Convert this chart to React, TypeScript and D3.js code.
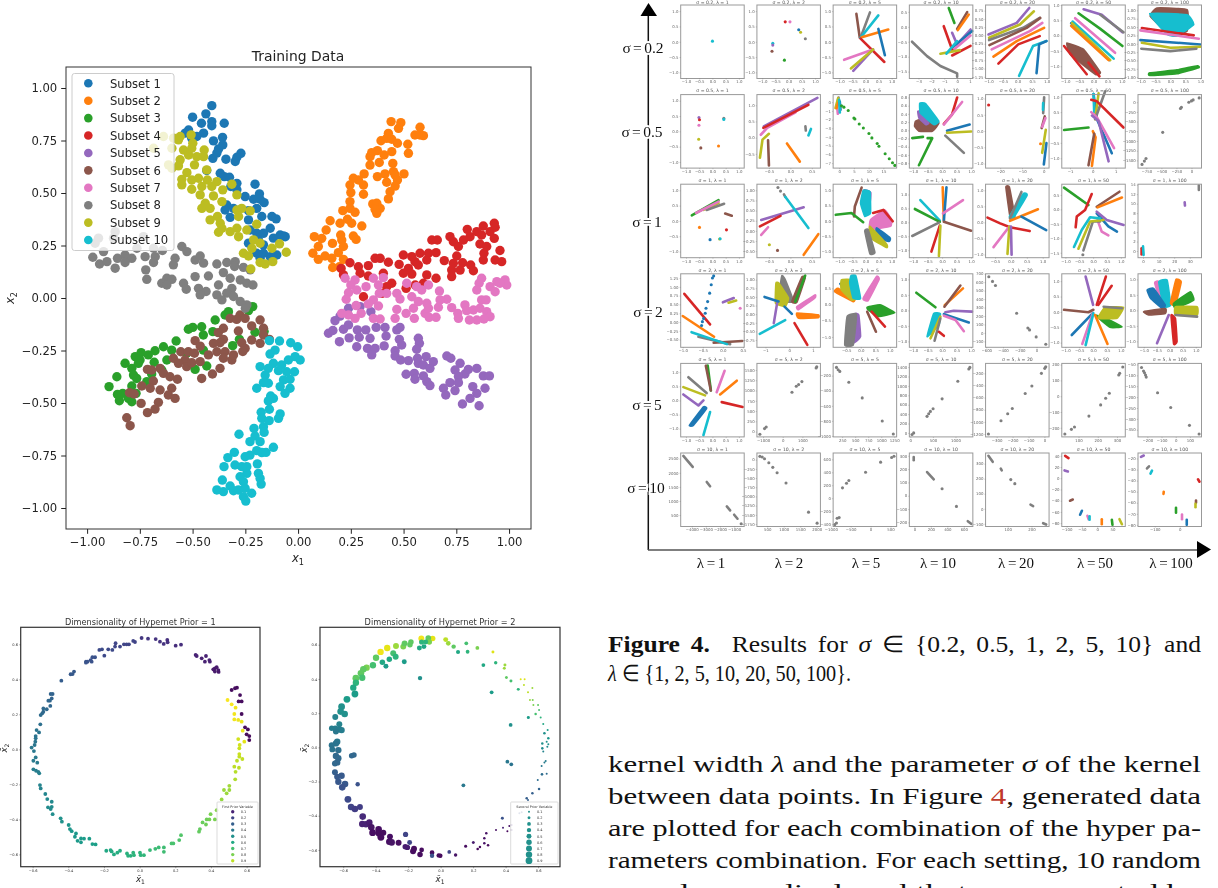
import React, { useEffect, useRef } from 'react';
import * as d3 from 'd3';

const WIDTH = 1218;
const HEIGHT = 888;
const SANS = '"DejaVu Sans", sans-serif';
const SERIF = '"Liberation Serif", serif';
const tab10 = ['#1f77b4', '#ff7f0e', '#2ca02c', '#d62728', '#9467bd', '#8c564b', '#e377c2', '#7f7f7f', '#bcbd22', '#17becf'];
const [blue, orange, green, red, purple, brown, pink, gray, olive, cyan] = [0, 1, 2, 3, 4, 5, 6, 7, 8, 9];

// ---- training data ----
const subset1 = [[-.409,.916],[-.437,.877],[-.5,.861],[-.458,.832],[-.409,.84],[-.35,.832],[-.409,.82],[-.519,.8],[-.535,.785],[-.448,.785],[-.48,.769],[-.504,.761],[-.358,.765],[-.401,.748],[-.357,.729],[-.377,.71],[-.271,.689],[-.29,.67],[-.342,.661],[-.298,.65],[-.404,.665],[-.385,.69],[-.369,.594],[-.35,.578],[-.325,.575],[-.433,.607],[-.29,.546],[-.319,.531],[-.204,.542],[-.251,.483],[-.183,.496],[-.211,.47],[-.18,.47],[-.161,.454],[-.29,.515],[-.338,.443],[-.306,.427],[-.346,.419],[-.196,.427],[-.235,.416],[-.322,.384],[-.172,.388],[-.124,.388],[-.104,.377],[-.235,.372],[-.132,.332],[-.227,.324],[-.196,.308],[-.164,.308],[-.069,.296],[-.085,.3],[-.117,.285],[-.061,.292],[-.235,.261],[-.188,.277],[-.164,.253],[-.101,.205],[-.132,.197],[-.18,.189],[-.196,.213],[-.164,.213]];
const subset2 = [[.441,.84],[.487,.835],[.476,.808],[.578,.813],[.554,.776],[.578,.776],[.594,.773],[.428,.784],[.42,.76],[.393,.749],[.444,.756],[.471,.737],[.52,.732],[.444,.697],[.523,.689],[.376,.702],[.349,.692],[.341,.673],[.408,.681],[.341,.633],[.385,.645],[.449,.641],[.313,.591],[.452,.602],[.412,.591],[.376,.578],[.502,.591],[.46,.586],[.42,.551],[.471,.562],[.46,.533],[.286,.562],[.262,.57],[.246,.538],[.31,.538],[.25,.502],[.31,.494],[.436,.506],[.428,.472],[.354,.448],[.373,.451],[.389,.427],[.365,.422],[.373,.403],[.246,.459],[.246,.427],[.27,.408],[.212,.416],[.152,.368],[.234,.375],[.199,.356],[.254,.356],[.302,.343],[.133,.324],[.202,.3],[.262,.295],[.275,.279],[.077,.292],[.112,.284],[.096,.245],[.163,.26],[.207,.276],[.215,.245],[.07,.213],[.096,.184],[.128,.2],[.191,.216],[.16,.189],[.164,.145],[.215,.184],[.196,.149]];
const subset3 = [[-.215,-.041],[-.235,-.06],[-.33,-.065],[-.346,-.081],[-.393,-.105],[-.457,-.137],[-.499,-.14],[-.52,-.149],[-.449,-.176],[-.404,-.16],[-.578,-.205],[-.638,-.232],[-.678,-.251],[-.71,-.271],[-.744,-.26],[-.772,-.279],[-.749,-.295],[-.599,-.248],[-.622,-.295],[-.528,-.263],[-.449,-.248],[-.682,-.306],[-.82,-.311],[-.788,-.335],[-.757,-.311],[-.78,-.367],[-.765,-.383],[-.859,-.375],[-.694,-.362],[-.646,-.343],[-.488,-.34],[-.433,-.324],[-.717,-.398],[-.788,-.419],[-.896,-.422],[-.856,-.459],[-.831,-.454],[-.847,-.489],[-.804,-.478],[-.788,-.494],[-.768,-.454],[-.31,-.227],[-.278,-.197],[-.204,-.163],[-.161,-.16]];
const subset4 = [[.93,.356],[.878,.343],[.934,.337],[.802,.327],[.847,.316],[.91,.316],[.87,.3],[.93,.284],[.634,.276],[.66,.276],[.72,.292],[.736,.268],[.815,.292],[.784,.276],[.76,.245],[.862,.257],[.894,.245],[.881,.213],[.957,.226],[.878,.181],[.934,.181],[.965,.173],[.499,.205],[.539,.197],[.578,.213],[.618,.213],[.654,.216],[.554,.173],[.61,.181],[.479,.16],[.57,.157],[.693,.178],[.752,.2],[.736,.165],[.78,.168],[.818,.157],[.728,.133],[.768,.133],[.831,.13],[.728,.102],[.523,.141],[.499,.118],[.539,.114],[.61,.11],[.654,.094],[.365,.189],[.389,.189],[.428,.17],[.246,.168],[.286,.149],[.333,.154],[.204,.141],[.294,.118],[.333,.105],[.404,.118],[.215,.11],[.444,.07],[.42,.054],[.594,.07],[.555,.062],[.512,.046],[.31,.006],[.397,.022]];
const subset5 = [[.239,-.049],[.199,-.086],[.175,-.108],[.294,-.041],[.345,-.065],[.144,-.168],[.165,-.155],[.215,-.149],[.239,-.128],[.281,-.152],[.321,-.152],[.37,-.14],[.412,-.14],[.468,-.152],[.483,-.14],[.196,-.208],[.242,-.19],[.29,-.187],[.341,-.192],[.417,-.181],[.278,-.232],[.329,-.24],[.365,-.24],[.349,-.271],[.408,-.228],[.48,-.197],[.491,-.224],[.46,-.251],[.46,-.276],[.486,-.295],[.523,-.298],[.57,-.192],[.575,-.216],[.562,-.244],[.566,-.287],[.607,-.279],[.57,-.311],[.594,-.319],[.641,-.303],[.625,-.335],[.512,-.363],[.551,-.359],[.554,-.387],[.594,-.371],[.61,-.398],[.625,-.417],[.705,-.276],[.724,-.287],[.768,-.311],[.744,-.343],[.791,-.362],[.807,-.34],[.847,-.335],[.878,-.371],[.907,-.371],[.76,-.374],[.72,-.403],[.76,-.403],[.689,-.43],[.7,-.462],[.744,-.441],[.828,-.422],[.886,-.43],[.847,-.454],[.815,-.478],[.779,-.505],[.858,-.513]];
const subset6 = [[-.18,-.105],[-.22,-.133],[-.164,-.144],[-.275,-.081],[-.322,-.097],[-.291,-.102],[-.251,-.097],[-.354,-.144],[-.378,-.165],[-.283,-.157],[-.354,-.197],[-.37,-.213],[-.164,-.176],[-.136,-.197],[-.22,-.2],[-.18,-.216],[-.267,-.213],[-.251,-.24],[-.262,-.255],[-.401,-.216],[-.488,-.203],[-.464,-.229],[-.556,-.256],[-.52,-.256],[-.491,-.263],[-.425,-.271],[-.385,-.256],[-.346,-.256],[-.354,-.287],[-.314,-.295],[-.306,-.271],[-.591,-.287],[-.536,-.295],[-.567,-.311],[-.528,-.327],[-.504,-.308],[-.464,-.303],[-.37,-.335],[-.406,-.362],[-.457,-.383],[-.654,-.335],[-.714,-.34],[-.694,-.343],[-.638,-.359],[-.607,-.375],[-.572,-.387],[-.686,-.395],[-.741,-.419],[-.701,-.43],[-.599,-.43],[-.654,-.438],[-.615,-.462],[-.583,-.478],[-.799,-.451],[-.777,-.457],[-.744,-.502],[-.662,-.497],[-.678,-.529],[-.714,-.546],[-.812,-.57],[-.796,-.608]];
const subset7 = [[.223,.094],[.27,.086],[.25,.062],[.278,.038],[.239,.025],[.228,-.006],[.322,.054],[.357,.094],[.404,.097],[.381,.062],[.385,.022],[.42,.022],[.357,-.009],[.333,-.028],[.381,-.038],[.275,-.036],[.299,-.073],[.27,-.097],[.239,-.081],[.207,-.073],[.357,-.097],[.389,-.1],[.468,.022],[.483,-.005],[.515,.07],[.562,.054],[.618,.062],[.586,.038],[.67,.033],[.539,.006],[.57,-.017],[.61,-.025],[.547,-.049],[.468,-.054],[.512,-.073],[.46,-.097],[.551,-.097],[.602,-.073],[.621,-.092],[.654,-.092],[.618,-.049],[.705,-.006],[.673,-.009],[.665,-.044],[.728,-.046],[.757,-.073],[.76,-.097],[.791,-.033],[.799,-.06],[.831,-.057],[.87,-.009],[.891,-.009],[.862,-.049],[.894,-.065],[.91,-.089],[.881,-.1],[.847,-.105],[.812,-.105],[.87,.094],[.858,.07],[.847,.038],[.91,.054],[.934,.03],[.942,.078],[.981,.086],[.989,.062],[.957,.07]];
const subset8 = [[-.946,.285],[-.962,.261],[-.867,.316],[-.875,.285],[-.922,.221],[-.973,.194],[-.941,.162],[-.906,.173],[-.867,.142],[-.856,.189],[-.82,.205],[-.788,.189],[-.82,.169],[-.733,.292],[-.764,.237],[-.685,.237],[-.643,.226],[-.725,.197],[-.677,.197],[-.685,.169],[-.722,.134],[-.717,.089],[-.551,.245],[-.527,.221],[-.583,.189],[-.591,.158],[-.488,.181],[-.464,.2],[-.448,.166],[-.385,.162],[-.338,.169],[-.298,.173],[-.354,.121],[-.301,.15],[-.259,.146],[-.227,.134],[-.488,.102],[-.425,.105],[-.622,.094],[-.646,.07],[-.598,.089],[-.622,.062],[-.543,.07],[-.53,.042],[-.472,.046],[-.436,.031],[-.464,.015],[-.377,.062],[-.322,.094],[-.274,.086],[-.243,.07],[-.214,.062],[-.314,.046],[-.338,.023],[-.385,.015],[-.361,-.009],[-.306,.007],[-.274,-.017],[-.243,-.033],[-.25,-.049]];
const subset9 = [[-.685,.713],[-.638,.769],[-.59,.761],[-.559,.769],[-.598,.713],[-.567,.753],[-.507,.777],[-.499,.737],[-.504,.713],[-.543,.705],[-.445,.705],[-.614,.634],[-.598,.618],[-.559,.658],[-.567,.629],[-.519,.681],[-.48,.673],[-.448,.673],[-.491,.634],[-.433,.61],[-.527,.597],[-.551,.565],[-.551,.539],[-.504,.562],[-.472,.57],[-.504,.518],[-.456,.531],[-.43,.562],[-.385,.554],[-.409,.531],[-.357,.515],[-.314,.542],[-.464,.491],[-.401,.486],[-.361,.459],[-.29,.491],[-.44,.451],[-.456,.427],[-.417,.427],[-.29,.419],[-.267,.427],[-.227,.415],[-.282,.388],[-.382,.388],[-.417,.372],[-.369,.356],[-.361,.332],[-.377,.313],[-.322,.316],[-.29,.332],[-.282,.292],[-.243,.324],[-.196,.351],[-.211,.277],[-.18,.261],[-.219,.237],[-.259,.213],[-.235,.2],[-.124,.237],[-.088,.258],[-.056,.218],[-.18,.169],[-.156,.162],[-.12,.173],[-.224,.138]];
const subset10 = [[-.136,-.203],[-.088,-.205],[-.035,-.213],[-.002,-.232],[-.109,-.248],[-.133,-.267],[-.014,-.279],[.01,-.295],[-.046,-.295],[-.117,-.311],[-.078,-.319],[-.18,-.327],[-.141,-.335],[-.093,-.346],[-.054,-.351],[-.017,-.351],[-.156,-.367],[-.141,-.406],[-.164,-.403],[-.069,-.39],[-.038,-.387],[-.085,-.422],[-.038,-.43],[-.196,-.43],[-.062,-.454],[-.13,-.467],[-.117,-.478],[-.141,-.49],[-.136,-.53],[-.175,-.544],[-.085,-.552],[-.093,-.573],[-.172,-.573],[-.137,-.584],[-.164,-.613],[-.209,-.621],[-.161,-.64],[-.28,-.649],[-.204,-.657],[-.18,-.684],[-.228,-.684],[-.117,-.711],[-.196,-.727],[-.172,-.736],[-.152,-.735],[-.302,-.735],[-.333,-.76],[-.228,-.748],[-.251,-.756],[-.351,-.803],[-.299,-.795],[-.267,-.803],[-.243,-.803],[-.193,-.79],[-.188,-.835],[-.243,-.835],[-.275,-.851],[-.259,-.875],[-.18,-.859],[-.175,-.886],[-.359,-.867],[-.322,-.895],[-.385,-.914],[-.354,-.922],[-.306,-.918],[-.283,-.914],[-.251,-.906],[-.22,-.93],[-.259,-.946],[-.248,-.967]];
const subsets = [subset1, subset2, subset3, subset4, subset5, subset6, subset7, subset8, subset9, subset10];
const subsetNames = subsets.map((_, i) => `Subset ${i + 1}`);
const mainTicks = [-1, -0.75, -0.5, -0.25, 0, 0.25, 0.5, 0.75, 1];

// ---- hypernet prior, dimension 1: [x1, x2, first prior] ----
const priorOne = [
  [.615,.053,.02],[.615,.076,.02],[.6,.086,.02],[.607,.114,.02],[.591,.126,.02],[.572,.202,.02],[.572,.274,.03],[.555,.274,.03],[.563,.31,.03],[.546,.352,.03],[.535,.349,.03],[.516,.339,.03],
  [.443,.442,.07],[.432,.469,.07],[.441,.453,.07],[.422,.463,.07],[.413,.457,.07],[.422,.444,.07],
  [.391,.51,.09],[.394,.501,.09],[.366,.501,.09],[.372,.533,.09],[.348,.52,.09],[.32,.533,.1],[.314,.539,.1],
  [.232,.598,.13],[.202,.592,.13],[.155,.625,.14],[.157,.611,.14],[.135,.602,.15],[.114,.615,.15],[.09,.63,.15],[.047,.632,.16],[.011,.636,.16],
  [-.026,.613,.2],[-.036,.619,.2],[-.06,.6,.2],[-.073,.6,.2],[-.088,.6,.2],[-.11,.587,.21],[-.135,.606,.21],[-.138,.587,.21],[-.153,.568,.22],[-.176,.571,.22],[-.198,.535,.22],[-.211,.571,.23],[-.226,.568,.23],
  [-.25,.526,.25],[-.265,.526,.25],[-.269,.501,.25],[-.275,.51,.25],[-.292,.501,.26],[-.301,.501,.26],[-.301,.495,.26],[-.368,.444,.28],[-.376,.43,.28],[-.387,.429,.28],[-.439,.392,.29],
  [-.488,.316,.32],[-.499,.316,.32],[-.493,.291,.32],[-.503,.278,.33],[-.512,.278,.33],[-.501,.248,.33],[-.521,.229,.34],[-.54,.234,.34],[-.54,.215,.34],[-.546,.206,.34],[-.555,.196,.35],[-.557,.143,.36],
  [-.578,.11,.38],[-.564,.097,.38],[-.583,.076,.38],[-.583,.063,.38],[-.585,.044,.39],[-.589,.025,.39],[-.606,.01,.4],[-.593,-.01,.4],[-.583,-.046,.41],[-.596,-.065,.41],[-.574,-.076,.41],[-.596,-.114,.42],[-.581,-.122,.42],[-.568,-.128,.42],[-.563,-.137,.43],
  [-.559,-.204,.45],[-.555,-.223,.45],[-.529,-.255,.46],[-.518,-.284,.47],[-.493,-.299,.47],[-.493,-.328,.48],[-.514,-.331,.48],[-.499,-.341,.48],[-.488,-.37,.49],
  [-.443,-.394,.51],[-.436,-.413,.51],[-.398,-.432,.52],[-.391,-.455,.52],[-.381,-.467,.53],[-.357,-.48,.53],[-.363,-.499,.53],[-.348,-.522,.54],[-.329,-.531,.54],[-.329,-.509,.54],[-.312,-.51,.55],[-.282,-.51,.55],[-.265,-.541,.56],[-.247,-.543,.56],
  [-.187,-.579,.6],[-.163,-.575,.6],[-.157,-.583,.61],[-.144,-.6,.61],[-.125,-.59,.62],[-.11,-.579,.62],
  [-.071,-.594,.64],[-.065,-.608,.64],[-.05,-.608,.64],[-.036,-.59,.65],[-.032,-.604,.65],[.002,-.59,.65],[.006,-.604,.65],[.024,-.604,.66],[.058,-.575,.67],[.088,-.568,.68],[.107,-.56,.68],[.136,-.56,.69],[.136,-.585,.69],
  [.179,-.537,.71],[.189,-.537,.71],[.222,-.518,.72],[.232,-.49,.73],
  [.333,-.47,.76],[.338,-.455,.76],[.353,-.417,.77],[.372,-.429,.78],[.376,-.4,.78],[.391,-.4,.79],[.422,-.4,.8],[.398,-.37,.8],
  [.432,-.347,.82],[.46,-.286,.84],[.473,-.232,.85],[.488,-.251,.85],[.503,-.232,.85],[.503,-.208,.86],
  [.536,-.171,.88],[.538,-.128,.89],[.531,-.099,.9],[.557,-.105,.9],[.546,-.065,.9],[.559,-.042,.91],[.576,-.055,.91],[.559,-.027,.92],[.559,.006,.92],[.561,.025,.93],[.553,.059,.93],
  [.587,.044,.96],[.578,.107,.97],[.572,.158,.97],[.553,.168,.97],[.531,.171,.98],[.531,.202,.98],[.538,.238,.98],[.516,.257,.99],[.493,.282,.99],
];

// ---- hypernet prior, dimension 2: [x1, x2, first prior, second prior] ----
const priorTwo = [
  [-.119,.637,.98,.7],[-.049,.637,.96,.6],[-.076,.639,.75,.65],[-.07,.616,.8,.6],[-.117,.616,.65,.55],[-.092,.616,.65,.5],[-.131,.581,.6,.5],[-.103,.589,.6,.5],[.031,.63,.9,.5],[.047,.608,.85,.45],[.08,.589,.75,.4],[.107,.558,.6,.35],[.158,.608,.7,.3],[.166,.559,.65,.3],[.226,.581,.8,.3],[.322,.558,.95,.2],[.263,.481,.6,.3],[.339,.495,.65,.25],[.396,.481,.85,.2],[.392,.462,.85,.2],[.405,.409,.75,.2],[.433,.388,.7,.2],[.478,.339,.65,.2],[.314,.322,.55,.3],[.493,.398,.95,.1],[.517,.398,.95,.1],[.513,.365,.9,.1],[.538,.322,.9,.1],[.565,.347,.85,.1],[.55,.277,.85,.1],[.567,.277,.8,.1],[.571,.248,.8,.1],[.6,.248,.75,.1],[.606,.218,.7,.1],[.585,.195,.7,.15],[.616,.175,.65,.1],[.54,.175,.55,.2],[.632,.136,.6,.1],[.659,.101,.55,.1],[.431,.131,.5,.3],
  [-.37,.558,.98,.8],[-.329,.581,.96,.8],[-.275,.593,.85,.7],[-.23,.589,.8,.7],[-.222,.608,.75,.7],[-.189,.6,.75,.6],[-.183,.616,.75,.6],[-.292,.55,.7,.7],[-.277,.53,.65,.7],[-.316,.515,.6,.6],[-.359,.497,.6,.6],[-.337,.474,.55,.5],[-.224,.501,.55,.5],[-.398,.524,.75,.8],[-.417,.48,.7,.8],[-.456,.466,.8,.8],[-.476,.456,.75,.85],[-.491,.433,.75,.85],[-.483,.407,.7,.8],[-.522,.404,.75,.9],[-.522,.378,.65,.8],[-.538,.349,.6,.8],[-.528,.312,.55,.9],[-.577,.281,.55,.9],[-.61,.238,.5,.9],[-.616,.209,.5,.85],[-.591,.195,.5,.85],[-.649,.177,.45,.7],[-.127,.405,.5,.4],
  [-.624,.135,.45,.7],[-.671,.111,.42,.6],[-.649,.111,.42,.7],[-.624,.105,.42,.8],[-.61,.101,.42,.8],[-.645,.092,.4,.7],[-.637,.033,.4,.8],[-.645,.023,.38,.8],[-.671,.012,.38,.7],[-.667,-.012,.38,.7],[-.63,-.016,.36,.8],[-.645,-.051,.34,.8],[-.63,-.064,.34,.8],[-.637,-.088,.33,.8],[-.651,-.094,.33,.7],[-.548,-.049,.33,.6],[-.534,-.045,.33,.6],[-.651,-.146,.3,.7],[-.637,-.172,.28,.75],[-.61,-.166,.28,.8],[-.63,-.201,.27,.8],[-.589,-.214,.27,.85],[-.606,-.234,.25,.85],[-.511,-.216,.25,.4],[-.571,-.304,.22,.9],[-.552,-.349,.2,.8],[-.528,-.361,.18,.85],[-.497,-.349,.18,.7],
  [-.48,-.405,.12,.85],[-.483,-.448,.1,.8],[-.46,-.45,.1,.85],[-.439,-.439,.08,.8],[-.427,-.468,.05,.85],[-.419,-.499,.04,.9],[-.382,-.48,.04,.85],[-.38,-.503,.03,.9],[-.368,-.526,.03,.9],[-.353,-.499,.03,.7],[-.312,-.522,.04,.7],[-.316,-.552,.04,.85],[-.302,-.556,.05,.85],[-.259,-.558,.03,.7],[-.216,-.509,.2,.55],[-.218,-.581,.08,.6],[-.205,-.585,.08,.6],[-.191,-.556,.2,.5],[-.164,-.593,.03,.7],[-.17,-.608,.03,.7],[-.127,-.626,.03,.6],[-.117,-.6,.03,.45],[-.053,-.616,.02,.45],[-.053,-.634,.25,.4],[-.012,-.632,.02,.4],[-.002,-.634,.02,.4],[.053,-.612,.2,.3],[.092,-.63,.05,.25],
  [.154,-.579,.03,.2],[.201,-.556,.08,.2],[.228,-.595,.02,.15],[.242,-.583,.02,.15],[.269,-.532,.05,.15],[.269,-.561,.05,.15],[.281,-.503,.05,.15],[.292,-.573,.02,.15],[.341,-.483,.05,.1],[.384,-.47,.1,.1],[.38,-.415,.25,.2],[.411,-.491,.02,.1],[.423,-.46,.05,.1],[.437,-.483,.1,.1],[.437,-.454,.1,.1],[.485,-.386,.25,.1],[.499,-.38,.25,.1],[.53,-.298,.3,.15],[.565,-.269,.3,.15],[.606,-.244,.32,.15],[.538,-.308,.3,.1],[.598,-.191,.35,.1],[.624,-.158,.35,.15],[.653,-.154,.35,.1],[.622,-.109,.4,.1],[.639,-.088,.42,.1],[.647,-.08,.42,.1],[.411,-.084,.4,.3],[.435,-.099,.38,.3],[.14,-.222,.4,.3],
  [.626,.023,.5,.15],[.653,.033,.5,.1],[.626,-.006,.48,.15],[.639,.082,.5,.15],[.663,.053,.52,.15],[.663,.018,.5,.1],[.657,.004,.48,.1],[.632,-.025,.45,.1],
];
const priorLevels = [0.1, 0.2, 0.3, 0.4, 0.5, 0.6, 0.7, 0.8, 0.9];
const priorTicks = [-0.6, -0.4, -0.2, 0, 0.2, 0.4, 0.6];

// ---- grid of results ----
const sigmas = ['0.2', '0.5', '1', '2', '5', '10'];
const lambdas = ['1', '2', '5', '10', '20', '50', '100'];
const unit = [-1, -0.5, 0, 0.5, 1];

// [x domain, y domain, x ticks, y ticks, x format, y format]
const panelAxes: any[][] = [
  [[[-1.2,1.2],[-1.2,1.2],unit,unit,'.1f','.1f'], [[-1.2,1.2],[-1.2,1.2],unit,unit,'.1f','.1f'], [[-1.24,1.19],[-1.2,1.2],unit,unit,'.1f','.1f'], [[-3.71,1.22],[-1.73,.73],[-3,-2,-1,0,1],[.5,0,-.5,-1,-1.5],'d','.1f'], [[-1.1,1.08],[-1.3,.92],unit,[.75,.5,.25,0,-.25,-.5,-.75,-1,-1.25],'.1f','.2f'], [[-1.12,1.12],[-1.4,1],unit,[1,.5,0,-.5,-1],'.1f','.1f'], [[-1.08,1.04],[-1.04,1.16],unit,[1,.75,.5,.25,0,-.25,-.5,-.75,-1],'.1f','.2f']],
  [[[-1.2,1.2],[-1.2,1.2],unit,unit,'.1f','.1f'], [[-.78,.7],[-.94,1.33],[-.5,0,.5],[1,.5,0,-.5],'.1f','.1f'], [[-2.05,19.5],[-7.57,.87],[0,5,10,15],[0,-1,-2,-3,-4,-5,-6,-7],'d','d'], [[-1.13,1.06],[-.92,.87],unit,[.8,.6,.4,.2,0,-.2,-.4,-.6,-.8],'.1f','.1f'], [[-26.7,2.4],[-1.14,1.12],[-20,-10,0],unit,'d','.1f'], [[-1.36,1.42],[-1.32,1.07],[-1,0,1],[1,.5,0,-.5,-1],'d','.1f'], [[-889,167],[-1697,196],[-750,-500,-250,0],[0,-250,-500,-750,-1000,-1250,-1500],'d','d']],
  [[[-1.2,1.2],[-1.2,1.2],unit,unit,'.1f','.1f'], [[-.78,.7],[-.66,1.15],[-.5,0,.5],[1,.75,.5,.25,0,-.25,-.5],'.1f','.2f'], [[-1.24,1.19],[-1.2,1.2],unit,unit,'.1f','.1f'], [[-1.13,1.06],[-1.27,1.37],unit,unit,'.1f','.1f'], [[-.8,1.2],[-1.1,1.19],[-.5,0,.5,1],unit,'.1f','.1f'], [[-1.13,1.16],[-1.67,.87],unit,[.5,0,-.5,-1,-1.5],'.1f','.1f'], [[-3.2,37.5],[-1.4,14.1],[0,10,20,30],[14,12,10,8,6,4,2,0],'d','d']],
  [[[-1.05,.53],[-.72,1.37],[-1,-.5,0,.5],[1.25,1,.75,.5,.25,0,-.25,-.5],'.1f','.2f'], [[-1.36,1.31],[-.96,1.17],[-1,0,1],[1,.75,.5,.25,0,-.25,-.5,-.75],'d','.2f'], [[-.95,1.23],[-1.32,.95],[-.5,0,.5,1],[.5,0,-.5,-1],'.1f','.1f'], [[-1.13,1.06],[-1.19,1.18],unit,unit,'.1f','.1f'], [[-608,150],[-170,699],[-600,-400,-200,0],[700,600,500,400,300,200,100,0,-100],'d','d'], [[-1.13,1.16],[-1.15,1.24],unit,unit,'.1f','.1f'], [[-1.22,1.22],[-1.19,1.18],unit,unit,'.1f','.1f']],
  [[[-1.2,1.2],[-1.29,1.31],unit,unit,'.1f','.1f'], [[-1311,1916],[-129,1661],[-1000,0,1000],[1500,1250,1000,750,500,250,0],'d','d'], [[77,1295],[-1013,-37],[250,500,750,1000,1250],[-200,-400,-600,-800,-1000],'d','d'], [[-22,1385],[-85,1479],[0,500,1000],[1400,1200,1000,800,600,400,200,0],'d','d'], [[-370,29],[-1248,-36],[-300,-200,-100,0],[-200,-400,-600,-800,-1000,-1200],'d','d'], [[13,343],[-258,208],[100,200,300],[200,100,0,-100,-200],'d','d'], [[-266,182],[-383,-45],[-200,-100,0,100],[-50,-100,-150,-200,-250,-300,-350],'d','d']],
  [[[-4780,-290],[95,2700],[-4000,-3000,-2000,-1000],[2500,2000,1500,1000,500],'d','d'], [[190,2110],[-1818,182],[500,1000,1500,2000],[0,-250,-500,-750,-1000,-1250,-1500,-1750],'d','d'], [[-941,655],[-436,698],[-1000,-500,0,500],[600,400,200,0,-200,-400],'d','d'], [[-61,709],[-231,321],[0,200,400,600],[300,200,100,0,-100,-200],'d','d'], [[7,274],[-118,371],[100,200],[300,200,100,0,-100],'d','d'], [[-116,92],[-86,45],[-100,-50,0,50],[40,20,0,-20,-40,-60,-80],'d','d'], [[-167,87],[-81.5,-15],[-100,0],[-20,-30,-40,-50,-60,-70,-80],'d','d']],
];

// s: strands [colour, points...], b: filled clouds [colour, points...], d: single dots [colour, x, y]
const panelMarks: any[][] = [
  [
    { d: [[cyan,0,.02]] },
    { d: [[red,-.13,.65],[pink,.05,.65],[blue,.38,.39],[olive,.45,.31],[gray,.63,.1],[cyan,-.6,-.05],[purple,-.6,-.11],[brown,-.63,-.31],[green,-.16,-.6]] },
    { s: [[brown,[-.35,.91],[-.22,.13]],[gray,[.17,.96],[-.19,.13]],[cyan,[.49,.86],[-.19,.13]],[orange,[.87,.4],[-.15,.15]],[blue,[.49,.42],[.74,-.44]],[red,[-.19,.1],[.72,-.66]],[pink,[-.82,-.59],[.23,-.27]],[purple,[-.47,-.95],[.29,-.25]],[olive,[-.56,-.87],[.29,-.25]]] },
    { s: [[gray,[-3.5,-.5],[-2.34,-.98],[-1.3,-1.31],[0,-1.56],[0,-1.67]],[green,[-.65,.63],[-.21,.13]],[brown,[.78,.49],[0,-.07]],[orange,[.9,.41],[.05,-.11]],[purple,[-.39,-.2],[0,-.59],[1.04,-.09]],[blue,[1.17,-.14],[-.39,-.7]],[pink,[1.04,-.29],[-.39,-.81]],[red,[-1.04,.02],[-.39,-.76]],[red,[1.04,-.64],[-.39,-.96]],[olive,[-1.3,-.9],[.21,-.78]],[cyan,[0,-.48],[-.83,-.9]]] },
    { s: [[purple,[-1,.03],[-.03,.38],[.4,.83]],[olive,[-.98,-.07],[.08,.33],[.56,.73]],[gray,[-.98,-.14],[.19,.23],[.76,.53]],[brown,[-.97,-.29],[.31,.23],[.78,.53]],[pink,[-.89,-.42],[.42,.13],[.85,.38]],[orange,[-.83,-.64],[-.03,-.17],[.91,.23]],[red,[-.66,-.85],[.02,-.27],[.76,-.02]],[cyan,[.05,-1.22],[.53,-.32],[.99,-.17]],[blue,[.65,-1.14],[.74,-.27],[.99,-.17]]] },
    { b: [[brown,[-.94,-.24],[-.35,-.45],[.24,-1.2],[.06,-1.26],[-.82,-.61]]], s: [[purple,[-.35,.86],[.29,.68],[1.02,.11]],[gray,[.24,.68],[.47,.52],[1.06,.11]],[green,[-.53,.73],[.24,.22],[1.02,-.34]],[pink,[-.65,.57],[.76,-.56]],[blue,[-.79,.41],[.57,-.8]],[cyan,[-.74,.46],[.71,-.75]],[olive,[-.76,.41],[.59,-.8]],[orange,[-.79,.32],[.53,-.8]],[red,[-1.04,-.34],[-.24,-1.26]],[red,[-.18,-.88],[.21,-1.33]]] },
    { b: [[brown,[-.45,1.07],[.56,1.02],[.56,.38],[0,.28],[-.67,.82]],[cyan,[-.69,.9],[.56,.87],[.78,.57],[.22,.23],[-.11,.28]],[green,[-.69,-.95],[.22,-.9],[.95,-.72],[.9,-.66],[.22,-.78],[-.69,-.87]]], s: [[red,[-.95,.47],[.78,.25]],[pink,[-1,.4],[.95,.15]],[blue,[-1,.11],[1,-.02]],[olive,[-.95,.03],[0,-.12],[1,-.09]],[gray,[-.97,-.15],[0,-.22],[.87,-.15]]] },
  ],
  [
    { d: [[purple,-.51,.45],[red,-.49,.38],[pink,-.51,.2],[gray,.43,.43],[cyan,.43,.39],[olive,-.52,-.26],[brown,-.44,-.54],[orange,.23,-.48]] },
    { s: [[purple,[-.62,.35],[.63,1.23]],[pink,[-.69,.09],[-.54,.3],[.12,.78]],[red,[-.63,.3],[.42,1.01]],[olive,[-.71,-.62],[-.65,-.06],[-.5,.12]],[brown,[-.52,-.08],[-.5,-.86]],[orange,[-.08,-.18],[.22,-.74]],[gray,[.35,.35],[.36,.22]],[cyan,[.48,.27],[.42,.07]]] },
    { s: [[gray,[-.2,.53],[-.7,-.3]],[olive,[-.35,.46],[-1.25,-.68]],[pink,[-.7,-.5],[-.45,-1.33]],[orange,[-.35,-.1],[-.9,-.68]],[blue,[.2,.08],[.45,-.88]],[cyan,[0,.27],[.23,-1.18]]], d: [[green,.8,-.42],[green,1.6,-.57],[green,3.07,-.95],[green,5,-1.81],[green,5.34,-1.94],[green,6.8,-2.51],[green,8.2,-2.97],[green,10.1,-3.6],[green,11.1,-4.1],[green,12.9,-4.75],[green,13.5,-5.06],[green,15.6,-5.93],[green,17,-6.5],[green,18.1,-6.96],[green,18.9,-7.26]] },
    { b: [[brown,[-.92,.22],[-.75,.26],[-.11,.18],[-.34,-.02],[-.8,-.02],[-.95,.1]],[purple,[-.84,.46],[-.75,.46],[-.46,.18],[-.57,.14],[-.8,.3]],[cyan,[-.77,.66],[-.57,.65],[-.11,.22],[-.29,.14],[-.75,.42]]], s: [[red,[.52,.8],[.34,.38],[.06,.16]],[pink,[.69,.69],[.06,.14]],[blue,[.95,.14],[.17,-.01]],[olive,[1,-.03],[.17,-.06]],[gray,[.11,-.13],[.75,-.55]],[green,[-1.03,-.19],[-.66,-.16]],[green,[-.8,-.85],[-.34,-.19],[-.5,-.19]]] },
    { s: [[gray,[.15,1.04],[-.3,.55]],[cyan,[-.3,.86],[-.4,.65]],[brown,[.45,.45],[-1,.09]],[pink,[.75,.4],[-.75,.13]],[olive,[.9,.04],[-.76,-.67]],[blue,[1.2,-.37],[0,-1.03]]], d: [[red,-25.3,.8],[orange,-1.5,-.39]] },
    { s: [[blue,[.03,1.09],[.18,.27],[.83,-.84]],[cyan,[.03,1.09],[.06,.5]],[olive,[.25,1.11],[.1,.27]],[gray,[.54,1.18],[.1,.27]],[red,[-.07,.9],[.18,.85],[1.34,0]],[pink,[-.07,.5],[.18,.33],[.93,-.67]],[purple,[-.04,.39],[.25,.21],[.69,-1.1]],[green,[-1.26,-.08],[-.19,0]],[orange,[0,-.12],[.12,-.32],[-.04,-1.25]],[brown,[.06,-.2],[-.19,-1.23]]] },
    { d: [[gray,128,111],[gray,28,60],[gray,0,34],[gray,-44,0],[gray,-167,-128],[gray,-183,-162],[gray,-478,-776],[gray,-756,-1449],[gray,-783,-1517],[gray,-822,-1602]] },
  ],
  [
    { s: [[green,[-.78,.18],[.23,.68]],[olive,[-.34,.36],[.23,.58]],[gray,[-.22,.36],[.44,.56]],[pink,[-.62,.26],[.23,.63]],[brown,[.48,.24],[.73,.17]]], d: [[orange,-.49,-.21],[red,.53,-.29],[blue,-.09,-.61],[olive,.27,-.59],[cyan,.29,-.58]] },
    { s: [[gray,[-.15,.9],[-.12,.84]],[purple,[-.68,.27],[.31,.58]],[cyan,[-.12,.84],[.42,.07]],[red,[-.71,.11],[-.23,.37]],[pink,[-.68,-.1],[-.52,.09]],[orange,[.31,-.59],[.65,-.08]]], d: [[gray,-.29,1.07],[gray,-.23,.98],[olive,-.49,-.34],[brown,-.3,-.48]] },
    { b: [[purple,[-.05,1.02],[.2,.93],[.17,.6],[-.05,.6]],[cyan,[-.09,1],[.17,.95],[.19,.26],[-.03,.15],[-.19,.58]],[pink,[.19,.04],[.74,.36],[.99,.04],[.96,-.17],[.17,-.28]],[blue,[.42,-.22],[.94,-.55],[.91,-.67],[.42,-.55]],[olive,[.17,-.17],[.81,-.76],[.81,-.87],[.17,-.55]],[gray,[-.03,-.33],[.1,-.28],[.36,-1.03],[.17,-1.08]]], s: [[brown,[-.15,1.09],[-.41,.47],[-.44,.15]],[green,[-1.14,.2],[-.54,.26],[-.09,-.04]],[red,[.29,.26],[.68,.36],[1.04,-.01]]] },
    { s: [[orange,[.02,1.26],[.06,.06]],[blue,[.15,1.26],[.06,.06]],[cyan,[-.75,.8],[-.08,.06]],[green,[-.94,.48],[-.08,.02]],[pink,[.72,.8],[.03,.32]],[brown,[.06,.02],[1,-.3]],[gray,[-1.03,-.49],[-.11,-.01]],[red,[-.37,-1.05],[-.08,-.12]],[olive,[-.11,-1.21],[-.06,-.12]]] },
    { b: [[brown,[-.16,1.1],[-.05,1.1],[.12,.18],[-.03,.18]],[cyan,[.51,.85],[.39,.9],[-.05,.18],[.07,.12]]], s: [[gray,[.33,.95],[-.03,.12]],[orange,[.85,.41],[-.03,.05]],[blue,[.33,.18],[1.11,-.24]],[red,[-.74,.15],[-.34,-.03],[-.03,-.15],[.59,-.27]],[pink,[-.55,-.77],[-.05,-.13]],[olive,[-.11,-.98],[-.05,-.13]],[purple,[.02,-1.01],[0,-.13]]] },
    { s: [[green,[-1.05,.75],[-.17,.15]],[brown,[.95,.61],[.13,.09]],[orange,[1.04,.41],[.16,.07]],[red,[-.05,.53],[-.29,-.02],[-.59,-.25],[-.63,-.62]],[blue,[.13,-.14],[.55,-.59],[.86,-.77]],[purple,[.13,-.08],[.49,-.37],[1.1,-.54]],[pink,[.16,-.37],[.31,-.77],[.55,-.9]],[gray,[-.35,-1.42],[-.01,-.42],[.25,-.42]],[olive,[-.53,-1.36],[-.11,-.42],[.37,-.37]],[cyan,[-.69,-1.3],[-.41,-.71],[-.11,-.27],[.25,-.31]]], d: [[gray,-.37,-1.57]] },
    { s: [[gray,[35.8,13.8],[35.8,12.9]],[purple,[26.7,10.3],[26.9,9.6]],[red,[-.9,.6],[-.9,-.7]],[cyan,[0,1],[.4,-.8]]] },
  ],
  [
    { s: [[red,[-.96,.8],[-.32,-.07]],[orange,[-1,.17],[-.22,-.42]],[gray,[-.61,-.42],[.18,-.63]],[brown,[-.23,-.59],[.48,-.54]],[cyan,[-.78,-.29],[.1,-.63]],[purple,[0,.56],[.27,.68]],[olive,[.14,.55],[.33,.61]]], d: [[blue,-.23,1.31],[blue,-.26,1.25],[blue,-.29,1.06],[blue,-.33,.82],[blue,-.38,.58],[blue,-.42,.39],[blue,-.44,.25],[blue,-.48,.1],[blue,-.51,.01],[blue,-.53,-.1],[pink,.43,.39]] },
    { b: [[gray,[-.31,1.12],[-.17,1],[.18,.37],[-.24,.37],[-.4,.71]],[brown,[.53,1.08],[.67,1.05],[.32,.34],[.11,.37]],[olive,[-.56,.9],[-.44,.9],[-.03,.47],[-.17,.22],[-.58,.32]],[pink,[.32,.22],[1.08,.56],[1.08,.47],[.39,.13]],[orange,[.32,.03],[1.22,-.02],[1.22,-.1],[.39,-.12]]], s: [[green,[.67,1.12],[.25,.36]],[purple,[-.51,.32],[-.65,-.26]],[red,[.22,-.26],[.76,-.89]],[cyan,[-1.24,-.57],[-.17,-.17]],[blue,[-1.04,.5],[-.45,.37]],[blue,[-.2,.22],[.11,.01]]] },
    { b: [[orange,[-.9,.4],[-.78,.5],[-.21,.19],[-.26,.09]],[blue,[-.72,.64],[-.61,.64],[-.26,.35],[-.4,.3]],[olive,[-.67,.76],[-.32,.76],[-.15,.19],[-.32,.14],[-.67,.45]],[cyan,[-.34,.89],[-.17,.89],[-.01,.19],[-.26,.19],[-.38,.66]],[pink,[.08,.19],[.54,.87],[.63,.78],[.25,.12]],[green,[.22,-.08],[.66,-.01],[1.17,-.25],[.6,-.37],[.25,-.16]],[purple,[-.21,-.3],[-.07,-.32],[-.01,-.99],[-.26,-1.18]],[gray,[-.47,-.37],[-.15,-.3],[-.26,-1.25],[-.55,-1.25]]], s: [[brown,[.22,-.22],[.52,-.84]],[red,[.37,-.22],[.83,-.68]]] },
    { b: [[cyan,[-.29,-.1],[-.06,-.1],[-.11,-.47],[-.52,-.85]]], s: [[green,[-.89,.57],[-.23,.1]],[orange,[.72,.71],[.09,.17]],[brown,[.63,.8],[.08,.12]],[purple,[.11,-.06],[.4,-.01],[1.03,-.04]],[blue,[.06,-.12],[.92,-.39]],[pink,[.06,-.17],[.46,-.31],[.75,-.67]],[olive,[-.06,-.2],[-.4,-.9]],[gray,[-.06,-.26],[-.26,-.98]],[red,[-.11,-.69],[.06,-.82]]] },
    { d: [[gray,-569,664],[gray,-525,609],[gray,-490,561],[gray,-237,233],[gray,-103,59],[gray,-83,36],[gray,-4,-47],[gray,111,-134]] },
    { b: [[green,[.07,-.1],[.49,-.21],[1.04,-.48],[.61,-.5]],[olive,[.23,-.1],[.43,.15],[1.1,.15],[.86,-.21],[.19,-.21]]], s: [[gray,[.38,.17],[1.04,.12]],[purple,[-.27,1.15],[0,.23]],[red,[.46,1.15],[.13,.23]],[red,[.67,.85],[.19,.23]],[brown,[-1.05,.07],[-.17,-.01],[.01,.07]],[blue,[-.77,-.75],[-.01,-.04]],[pink,[-.39,-1.04],[-.01,-.04]],[cyan,[-.27,-1.08],[.01,-.04]],[orange,[.07,-.1],[.52,-1.04]]] },
    { b: [[pink,[-.58,.89],[-.42,.92],[-.1,.17],[-.29,.12]],[cyan,[-.42,.92],[-.1,.98],[.03,.17],[-.23,.12]],[blue,[-.87,.66],[-.62,.71],[-.17,.17],[-.29,.06],[-.74,.39]],[orange,[.24,1],[.44,.92],[.22,.17],[.03,.23]],[green,[.15,.23],[.79,.6],[.92,.33],[.22,.06]],[olive,[.22,.12],[1.05,.12],[1.05,-.15],[.22,-.15]],[brown,[-1,-.04],[-.17,.06],[-.17,-.1],[-.81,-.15]],[red,[.05,-.15],[.22,-.26],[.28,-1.01],[.15,-1.09]]], s: [[gray,[.22,-.15],[1.05,-.2]],[purple,[-.04,-.15],[-.49,-1.06]]] },
  ],
  [
    { b: [[blue,[-.34,-.23],[-.22,-.29],[-.72,-.88],[-.87,-.88]]], s: [[green,[-.18,1.23],[-.06,.35]],[brown,[-.25,1.23],[-.06,.35]],[gray,[-.91,.82],[-.22,.26]],[olive,[-1.1,.47],[-.28,.18]],[purple,[-1.1,.21],[-.53,-.18],[-.34,0]],[pink,[.46,1.05],[.16,.29]],[orange,[.92,.7],[.29,.21]],[red,[.35,-.06],[1.14,-.23]],[cyan,[-.09,-.41],[-.34,-1.23]]] },
    { d: [[gray,1731,1581],[gray,1697,1548],[gray,975,1218],[gray,807,1145],[gray,689,1105],[gray,471,960],[gray,-840,113],[gray,-924,73],[gray,-1160,-65]] },
    { d: [[gray,141,-90],[gray,173,-121],[gray,205,-143],[gray,378,-288],[gray,635,-495],[gray,1019,-802],[gray,1231,-974]] },
    { d: [[gray,1319,1394],[gray,1296,1359],[gray,1052,1099],[gray,704,725],[gray,504,514],[gray,444,458],[gray,407,408],[gray,370,352],[gray,74,0],[gray,37,-35]] },
    { d: [[gray,8,-91],[gray,2,-118],[gray,-19,-200],[gray,-79,-408],[gray,-121,-533],[gray,-202,-779],[gray,-231,-867],[gray,-273,-981],[gray,-352,-1200]] },
    { d: [[gray,330,185],[gray,314,145],[gray,309,134],[gray,260,19],[gray,241,-13],[gray,215,-55],[gray,154,-126],[gray,79,-195],[gray,63,-210],[gray,29,-240]] },
    { d: [[gray,-241,-64],[gray,-227,-80],[gray,-220,-88],[gray,-213,-98],[gray,-208,-108],[gray,-128,-180],[gray,-35,-248],[gray,97,-330],[gray,165,-370]] },
  ],
  [
    { s: [[gray,[-4593,2597],[-3931,2206]],[gray,[-2938,1673],[-2702,1519]],[gray,[-1520,808],[-1284,666]],[gray,[-1000,512],[-764,370]]], d: [[gray,-504,192]] },
    { d: [[gray,280,91],[gray,350,73],[gray,420,27],[gray,550,-82],[gray,670,-209],[gray,800,-355],[gray,1070,-636],[gray,1750,-1427],[gray,2010,-1727]] },
    { d: [[gray,-899,-407],[gray,-857,-381],[gray,-840,-309],[gray,-790,-299],[gray,-706,160],[gray,-605,232],[gray,-546,273],[gray,-126,402],[gray,252,557],[gray,529,629],[gray,588,649]] },
    { s: [[gray,[-8,291],[-8,266]],[gray,[154,178],[235,123]],[gray,[648,-191],[688,-211]]], d: [[gray,336,53],[gray,510,-80]] },
    { s: [[gray,[19,352],[37,312]],[gray,[71,267],[75,256]],[gray,[196,27],[207,18]],[gray,[249,-96],[262,-105]]], d: [[gray,113,194],[gray,130,167]] },
    { s: [[red,[-105,40],[-94,36]],[purple,[-107,14],[-96,12]],[brown,[-89,-40],[-80,-38]],[blue,[-56,-65],[-50,-58]],[pink,[-32,-67],[-28,-73]],[cyan,[-25,-68],[-25,-74]],[orange,[15,-73],[15,-82]],[green,[48,-74],[50,-83]],[olive,[73,-73],[81,-82]]] },
    { s: [[purple,[-155,-18.5],[-144,-17.3]],[gray,[-131,-29],[-123,-27]],[cyan,[-117,-33.6],[-111,-31]],[red,[73,-38.8],[79,-41]],[orange,[-64,-50],[-65,-52]],[brown,[65,-58],[65,-60]],[olive,[63,-61],[63,-64]],[green,[-15,-64.5],[-15,-69]],[pink,[9,-70.6],[9,-75]],[blue,[28,-75.5],[28,-80]]] },
  ],
];

// ---- text on the right ----
const bodyLines = [
  ['kernel width ', { i: 'λ' }, ' and the parameter ', { i: 'σ' }, ' of the kernel'],
  ['between data points. In Figure ', { r: '4' }, ', generated data'],
  ['are plotted for each combination of the hyper pa-'],
  ['rameters combination. For each setting, 10 random'],
  ['samples are displayed that are generated by'],
];

const styleAxis = (g: any, size: number, color: string, tickWidth: number) => {
  g.attr('font-family', SANS).attr('font-size', size);
  g.select('.domain').remove();
  g.selectAll('.tick line').attr('stroke', color).attr('stroke-width', tickWidth);
  g.selectAll('.tick text').attr('fill', color);
};

const addSubLabel = (parent: any, x: number, y: number, base: string, sub: string, size: number, rotate = false) => {
  const t = parent.append('text').attr('text-anchor', 'middle').attr('font-family', SANS).attr('font-size', size).attr('fill', '#222');
  t.attr('transform', rotate ? `translate(${x},${y}) rotate(-90)` : `translate(${x},${y})`);
  t.append('tspan').attr('font-style', 'italic').text(base);
  t.append('tspan').attr('font-size', size * 0.7).attr('dy', size * 0.25).text(sub);
};

const drawTraining = (svg: any) => {
  const box = { left: 66, right: 531, top: 67, bottom: 529 };
  const x = d3.scaleLinear().domain([-1.1, 1.104]).range([box.left, box.right]);
  const y = d3.scaleLinear().domain([-1.1, 1.1]).range([box.bottom, box.top]);
  const g = svg.append('g').attr('filter', 'url(#softMain)');

  subsets.forEach((pts, i) => {
    g.append('g').selectAll('circle').data(pts).join('circle')
      .attr('cx', (d: number[]) => x(d[0])).attr('cy', (d: number[]) => y(d[1]))
      .attr('r', 4.7).attr('fill', tab10[i]);
  });

  g.append('rect').attr('x', box.left).attr('y', box.top).attr('width', box.right - box.left).attr('height', box.bottom - box.top)
    .attr('fill', 'none').attr('stroke', '#333').attr('stroke-width', 1);

  const fmt = d3.format('.2f');
  const ax = g.append('g').attr('transform', `translate(0,${box.bottom})`)
    .call(d3.axisBottom(x).tickValues(mainTicks).tickFormat(fmt as any).tickSize(4.8).tickPadding(4));
  styleAxis(ax, 11.6, '#222', 1);
  const ay = g.append('g').attr('transform', `translate(${box.left},0)`)
    .call(d3.axisLeft(y).tickValues(mainTicks).tickFormat(fmt as any).tickSize(4.8).tickPadding(4));
  styleAxis(ay, 11.6, '#222', 1);

  g.append('text').attr('x', 298).attr('y', 61).attr('text-anchor', 'middle').attr('font-family', SANS).attr('font-size', 13.9).attr('fill', '#222').text('Training Data');
  addSubLabel(g, 298, 562, 'x', '1', 11.6);
  addSubLabel(g, 14, 298, 'x', '2', 11.6, true);

  // legend, slightly see-through like matplotlib's
  g.append('rect').attr('x', 72).attr('y', 73.5).attr('width', 102).attr('height', 177).attr('rx', 2.5)
    .attr('fill', 'rgba(255,255,255,0.8)').attr('stroke', '#ccc').attr('stroke-width', 1);
  const row = d3.scaleLinear().domain([0, 9]).range([83.3, 240]);
  subsetNames.forEach((name, i) => {
    g.append('circle').attr('cx', 88.3).attr('cy', row(i)).attr('r', 4.3).attr('fill', tab10[i]);
    g.append('text').attr('x', 110).attr('y', row(i) + 4.2).attr('font-family', SANS).attr('font-size', 11.6).attr('fill', '#222').text(name);
  });
};

const drawPanel = (parent: any, axes: any[], marks: any, x0: number, y0: number, w: number, h: number, title: string, titleY: number) => {
  const [xd, yd, xt, yt, xf, yf] = axes;
  const g = parent.append('g').attr('transform', `translate(${x0},${y0})`);
  const x = d3.scaleLinear().domain(xd).range([0, w]);
  const y = d3.scaleLinear().domain(yd).range([h, 0]);
  const path = d3.line().x((d: any) => x(d[0])).y((d: any) => y(d[1]));
  const closed = d3.line().x((d: any) => x(d[0])).y((d: any) => y(d[1])).curve(d3.curveCardinalClosed.tension(0.65));

  (marks.b || []).forEach((b: any[]) => {
    g.append('path').attr('d', closed(b.slice(1))).attr('fill', tab10[b[0]]).attr('stroke', tab10[b[0]]).attr('stroke-width', 1.6).attr('stroke-linejoin', 'round');
  });
  (marks.s || []).forEach((s: any[]) => {
    g.append('path').attr('d', path(s.slice(1))).attr('fill', 'none').attr('stroke', tab10[s[0]]).attr('stroke-width', 2.6).attr('stroke-linecap', 'round').attr('stroke-linejoin', 'round');
  });
  (marks.d || []).forEach((d: number[]) => {
    g.append('circle').attr('cx', x(d[1])).attr('cy', y(d[2])).attr('r', 1.55).attr('fill', tab10[d[0]]);
  });

  g.append('rect').attr('width', w).attr('height', h).attr('fill', 'none').attr('stroke', '#999').attr('stroke-width', 1);
  const ax = g.append('g').attr('transform', `translate(0,${h})`)
    .call(d3.axisBottom(x).tickValues(xt).tickFormat(d3.format(xf) as any).tickSize(1.2).tickPadding(1));
  styleAxis(ax, 3.9, '#666', 0.3);
  const ay = g.append('g').call(d3.axisLeft(y).tickValues(yt).tickFormat(d3.format(yf) as any).tickSize(1.2).tickPadding(1));
  styleAxis(ay, 3.9, '#666', 0.3);
  g.append('text').attr('x', w / 2).attr('y', titleY).attr('text-anchor', 'middle').attr('font-family', SANS).attr('font-size', 4.6).attr('fill', '#555').text(title);
};

const drawGrid = (svg: any) => {
  const colX = d3.scaleLinear().domain([0, 6]).range([680.7, 1138]);
  const rowY = d3.scaleLinear().domain([0, 5]).range([5, 453]);
  const g = svg.append('g').attr('filter', 'url(#softGrid)');

  // arrows first, the row labels sit on the line
  const ink = svg.append('g');
  ink.append('line').attr('x1', 648.3).attr('x2', 648.3).attr('y1', 14).attr('y2', 550).attr('stroke', '#111').attr('stroke-width', 1.5);
  ink.append('line').attr('x1', 648).attr('x2', 1198).attr('y1', 550).attr('y2', 550).attr('stroke', '#555').attr('stroke-width', 1.5);
  ink.append('path').attr('d', 'M648.5,3L657,16L640.5,16Z').attr('fill', '#000');
  ink.append('path').attr('d', 'M1211,549.5L1197,541L1197,558Z').attr('fill', '#000');

  sigmas.forEach((sigma, r) => {
    lambdas.forEach((lambda, c) => {
      drawPanel(g, panelAxes[r][c], panelMarks[r][c], colX(c), rowY(r), 63.5, 73.5, `σ = ${sigma},  λ = ${lambda}`, r === 0 ? -1.5 : -2.2);
    });
  });

  const sigmaY = [48, 132, 222, 312, 405, 488];
  const sigmaX = [643, 642, 647, 648, 647, 646];
  sigmas.forEach((sigma, r) => {
    ink.append('text').attr('x', sigmaX[r]).attr('y', sigmaY[r] + 5).attr('text-anchor', 'middle')
      .attr('font-family', SERIF).attr('font-size', 15.5).attr('word-spacing', -1.5).attr('fill', '#111')
      .attr('stroke', '#fff').attr('stroke-width', 4).attr('paint-order', 'stroke').text(`σ = ${sigma}`);
  });
  const lambdaX = [711, 789, 866, 938, 1016, 1095, 1171];
  lambdas.forEach((lambda, c) => {
    ink.append('text').attr('x', lambdaX[c]).attr('y', 568).attr('text-anchor', 'middle')
      .attr('font-family', SERIF).attr('font-size', 15).attr('word-spacing', -1).attr('fill', '#111').text(`λ = ${lambda}`);
  });
};

const drawPrior = (svg: any, opts: any) => {
  const { left, right, xd, yd, title, points, radius, legendX, legendW, legendTitle, markX, textX, markR, markC } = opts;
  const top = 627.3;
  const bottom = 866.7;
  const g = svg.append('g').attr('filter', 'url(#softGrid)');
  const x = d3.scaleLinear().domain(xd).range([left, right]);
  const y = d3.scaleLinear().domain(yd).range([bottom, top]);

  g.append('g').selectAll('circle').data(points).join('circle')
    .attr('cx', (d: number[]) => x(d[0])).attr('cy', (d: number[]) => y(d[1]))
    .attr('r', radius).attr('fill', (d: number[]) => d3.interpolateViridis(d[2]));

  g.append('rect').attr('x', left).attr('y', top).attr('width', right - left).attr('height', bottom - top).attr('fill', 'none').attr('stroke', '#333').attr('stroke-width', 1.2);
  const fmt = d3.format('.1f');
  const ax = g.append('g').attr('transform', `translate(0,${bottom})`).call(d3.axisBottom(x).tickValues(priorTicks).tickFormat(fmt as any).tickSize(1.5).tickPadding(1.2));
  styleAxis(ax, 3.6, '#333', 0.4);
  const ay = g.append('g').attr('transform', `translate(${left},0)`).call(d3.axisLeft(y).tickValues(priorTicks).tickFormat(fmt as any).tickSize(1.5).tickPadding(1.2));
  styleAxis(ay, 3.6, '#333', 0.4);

  g.append('text').attr('x', (left + right) / 2).attr('y', 625).attr('text-anchor', 'middle').attr('font-family', SANS).attr('font-size', 8.2).attr('fill', '#333').text(title);
  addSubLabel(g, (left + right) / 2, 882, 'x\u0304', '1', 8.6);
  addSubLabel(g, left - 13.5, 748, 'x\u0304', '2', 8.6, true);

  g.append('rect').attr('x', legendX).attr('y', 802).attr('width', legendW).attr('height', 62).attr('rx', 0.8).attr('fill', 'rgba(255,255,255,0.85)').attr('stroke', '#ccc').attr('stroke-width', 0.7);
  g.append('text').attr('x', legendX + legendW / 2).attr('y', 807.5).attr('text-anchor', 'middle').attr('font-family', SANS).attr('font-size', 3.4).attr('fill', '#333').text(legendTitle);
  const row = d3.scaleLinear().domain([0, 8]).range([811.7, 860.7]);
  priorLevels.forEach((level, i) => {
    g.append('circle').attr('cx', markX).attr('cy', row(i)).attr('r', markR(level)).attr('fill', markC(level));
    g.append('text').attr('x', textX).attr('y', row(i) + 1.3).attr('font-family', SANS).attr('font-size', 3.5).attr('fill', '#333').text(level.toFixed(1));
  });
};

const drawText = (svg: any) => {
  const g = svg.append('g').attr('font-family', SERIF).attr('fill', '#111');
  const first = g.append('text').attr('x', 608).attr('y', 652).attr('font-size', 23).attr('word-spacing', 4)
    .attr('textLength', 593).attr('lengthAdjust', 'spacingAndGlyphs');
  first.append('tspan').attr('font-weight', 'bold').text('Figure 4.');
  first.append('tspan').attr('dx', 10).text(' Results for ');
  first.append('tspan').attr('font-style', 'italic').text('σ');
  first.append('tspan').text(' ∈ {0.2, 0.5, 1, 2, 5, 10} and');
  const second = g.append('text').attr('x', 608).attr('y', 681).attr('font-size', 23).attr('textLength', 243).attr('lengthAdjust', 'spacingAndGlyphs');
  second.append('tspan').attr('font-style', 'italic').text('λ');
  second.append('tspan').text(' ∈ {1, 2, 5, 10, 20, 50, 100}.');

  bodyLines.forEach((parts, i) => {
    const line = g.append('text').attr('x', 608).attr('y', 772 + i * 32).attr('font-size', 23.5)
      .attr('textLength', 593).attr('lengthAdjust', 'spacingAndGlyphs');
    parts.forEach((part: any) => {
      if (typeof part === 'string') line.append('tspan').text(part);
      else if (part.i) line.append('tspan').attr('font-style', 'italic').text(part.i);
      else line.append('tspan').attr('fill', '#c0392b').text(part.r);
    });
  });
};

const App = () => {
  const svgRef = useRef<SVGSVGElement>(null);
  useEffect(() => {
    const svg = d3.select(svgRef.current);
    svg.selectAll('*').remove();

    const defs = svg.append('defs');
    [['softMain', 0.3], ['softGrid', 0.4]].forEach(([id, dev]) => {
      defs.append('filter').attr('id', id as string).attr('filterUnits', 'userSpaceOnUse')
        .attr('x', 0).attr('y', 0).attr('width', WIDTH).attr('height', HEIGHT)
        .append('feGaussianBlur').attr('stdDeviation', dev as number);
    });

    drawTraining(svg);
    drawGrid(svg);

    drawPrior(svg, {
      left: 20.7, right: 260, xd: [-0.667, 0.675], yd: [-0.67, 0.697],
      title: 'Dimensionality of Hypernet Prior = 1', points: priorOne,
      radius: 1.9, legendX: 217, legendW: 41, legendTitle: 'First Prior Variable',
      markX: 232.7, textX: 240.7, markR: () => 1.7, markC: (v: number) => d3.interpolateViridis(v),
    });
    const sizeScale = d3.scaleSqrt().domain([0.1, 0.9]).range([1, 3.4]);
    drawPrior(svg, {
      left: 320, right: 560, xd: [-0.743, 0.735], yd: [-0.698, 0.702],
      title: 'Dimensionality of Hypernet Prior = 2', points: priorTwo,
      radius: (d: number[]) => sizeScale(d[3]), legendX: 510.7, legendW: 47.3, legendTitle: 'Second Prior Variable',
      markX: 529, textX: 537, markR: (v: number) => sizeScale(v), markC: () => d3.interpolateViridis(0.5),
    });

    drawText(svg);
  }, []);

  return <svg ref={svgRef} width={WIDTH} height={HEIGHT} style={{ position: 'absolute', left: 0, top: 0, background: '#fff' }} />;
};

export default App;
